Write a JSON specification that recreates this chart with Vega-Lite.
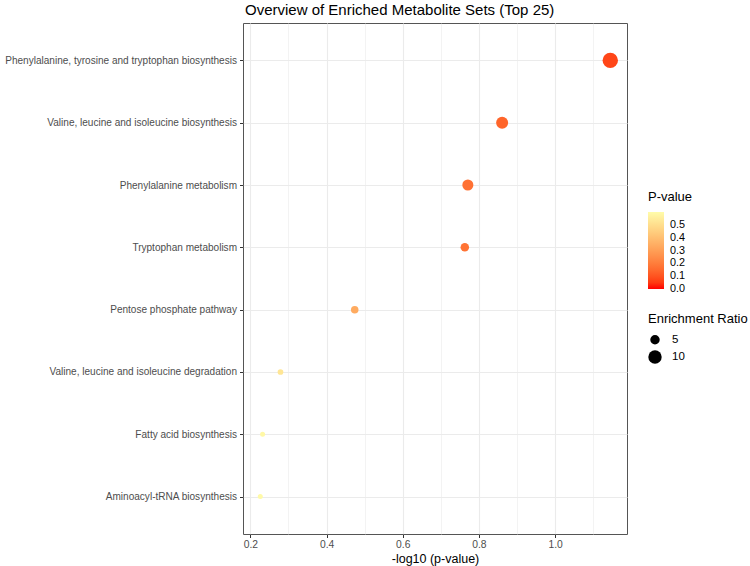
{
  "$schema": "https://vega.github.io/schema/vega-lite/v6.json",
  "width": 384,
  "height": 511,
  "autosize": "none",
  "padding": {"left": 243, "top": 23, "right": 123, "bottom": 32},
  "background": "white",
  "title": {
    "text": "Overview of Enriched Metabolite Sets (Top 25)",
    "anchor": "start",
    "frame": "group",
    "font": "Liberation Sans",
    "fontSize": 15,
    "fontWeight": "normal",
    "color": "black",
    "offset": 5,
    "dx": 2
  },
  "config": {
    "view": {"stroke": "#555555", "strokeWidth": 1},
    "font": "Liberation Sans"
  },
  "data": {
    "values": [
      {"name": "Phenylalanine, tyrosine and tryptophan biosynthesis", "logp": 1.145, "pval": 0.0716, "ratio": 13.3},
      {"name": "Valine, leucine and isoleucine biosynthesis", "logp": 0.861, "pval": 0.1377, "ratio": 8.1},
      {"name": "Phenylalanine metabolism", "logp": 0.771, "pval": 0.1694, "ratio": 6.85},
      {"name": "Tryptophan metabolism", "logp": 0.763, "pval": 0.1726, "ratio": 4.05},
      {"name": "Pentose phosphate pathway", "logp": 0.474, "pval": 0.3357, "ratio": 3.2},
      {"name": "Valine, leucine and isoleucine degradation", "logp": 0.279, "pval": 0.526, "ratio": 1.8},
      {"name": "Fatty acid biosynthesis", "logp": 0.232, "pval": 0.586, "ratio": 1.4},
      {"name": "Aminoacyl-tRNA biosynthesis", "logp": 0.226, "pval": 0.594, "ratio": 1.4}
    ]
  },
  "mark": {"type": "point", "filled": true, "opacity": 1, "shape": "circle", "strokeWidth": 0},
  "encoding": {
    "x": {
      "field": "logp",
      "type": "quantitative",
      "scale": {"domain": [0.1806, 1.1889], "nice": false, "zero": false},
      "axis": {
        "values": [0.2, 0.3, 0.4, 0.5, 0.6, 0.7, 0.8, 0.9, 1.0, 1.1],
        "format": ".1f",
        "labelExpr": "round(datum.value*10) % 2 == 0 ? datum.label : ''",
        "title": "-log10 (p-value)",
        "grid": true,
        "gridColor": "#EBEBEB",
        "gridWidth": {"condition": {"test": "round(datum.value*10) % 2 == 0", "value": 1.1}, "value": 0.6},
        "domain": false,
        "tickColor": "#333333",
        "tickSize": 3.5,
        "tickOpacity": {"condition": {"test": "round(datum.value*10) % 2 == 0", "value": 1}, "value": 0},
        "labelColor": "#4D4D4D",
        "labelFont": "Liberation Sans",
        "labelFontSize": 10.3,
        "labelPadding": 2,
        "titleFont": "Liberation Sans",
        "titleFontSize": 12.5,
        "titleFontWeight": "normal",
        "titleColor": "black",
        "titlePadding": 3
      }
    },
    "y": {
      "field": "name",
      "type": "nominal",
      "sort": "-x",
      "scale": {"padding": 0.6},
      "axis": {
        "title": null,
        "grid": true,
        "gridColor": "#EBEBEB",
        "gridWidth": 1.1,
        "domain": false,
        "tickColor": "#333333",
        "tickSize": 3.5,
        "labelColor": "#4D4D4D",
        "labelFont": "Liberation Sans",
        "labelFontSize": 10.05,
        "labelPadding": 3,
        "labelLimit": 300
      }
    },
    "color": {
      "field": "pval",
      "type": "quantitative",
      "scale": {"domain": [0, 0.6], "range": ["#FF0000", "#FFFCAA"], "interpolate": "lab"},
      "legend": {
        "title": "P-value",
        "orient": "none",
        "legendX": 405,
        "legendY": 168,
        "gradientLength": 77,
        "gradientThickness": 16,
        "gradientStrokeWidth": 0,
        "values": [0.003, 0.1, 0.2, 0.3, 0.4, 0.5],
        "format": ".1f",
        "titleFont": "Liberation Sans",
        "titleFontWeight": "normal",
        "titleFontSize": 13,
        "titleColor": "black",
        "titlePadding": 8,
        "labelFont": "Liberation Sans",
        "labelFontSize": 10.8,
        "labelColor": "black",
        "labelOffset": 6,
        "labelBaseline": "middle",
        "labelOverlap": false
      }
    },
    "size": {
      "field": "ratio",
      "type": "quantitative",
      "scale": {"domain": [0, 14], "range": [0, 250], "zero": true},
      "legend": {
        "title": "Enrichment Ratio",
        "orient": "none",
        "legendX": 405,
        "legendY": 290,
        "values": [5, 10],
        "symbolFillColor": "black",
        "symbolStrokeColor": "black",
        "symbolStrokeWidth": 0,
        "symbolType": "circle",
        "titleFont": "Liberation Sans",
        "titleFontWeight": "normal",
        "titleFontSize": 13,
        "titleColor": "black",
        "titlePadding": 8,
        "labelFont": "Liberation Sans",
        "labelFontSize": 11.5,
        "labelColor": "black",
        "labelOffset": 10,
        "rowPadding": 4
      }
    }
  }
}
